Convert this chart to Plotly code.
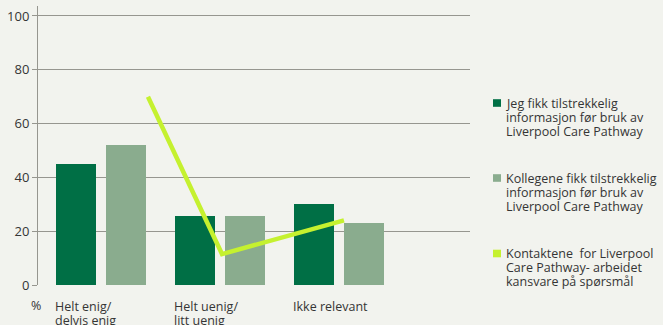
import plotly.graph_objects as go

# Survey answers (percent)
categories = [["Helt enig/", "delvis enig"], ["Helt uenig/", "litt uenig"], ["Ikke relevant"]]
series_names = [
    ["Jeg fikk tilstrekkelig", "informasjon før bruk av", "Liverpool Care Pathway"],
    ["Kollegene fikk tilstrekkelig", "informasjon før bruk av", "Liverpool Care Pathway"],
    ["Kontaktene  for Liverpool", "Care Pathway- arbeidet", "kansvare på spørsmål"],
]
jeg_values = [45, 25.5, 30]
kollegene_values = [52, 25.5, 23]
kontakt_values = [70, 11.5, 24]
kontakt_positions = [0.395, 1.017, 2.042]
y_ticks = [0, 20, 40, 60, 80, 100]

DARK = "#006f45"
LIGHT = "#8aac8e"
LIME = "#c5f12f"
BG = "#f2f3ee"
GRID = "#96968f"
TEXT = "#353535"
FONT = "Open Sans"

W, H = 663, 325
L, R, T, B = 38, 193, 6, 40
X_RANGE = [-0.529, 3.101]
Y_RANGE = [0, 103.7]
LINE_STEP = 14

xs = list(range(len(categories)))
plot_w = W - L - R
plot_h = H - T - B


def px_x(p):
    return (p - L) / plot_w


def px_y(p):
    return 1 - (p - T) / plot_h


fig = go.Figure()
fig.add_trace(go.Bar(x=xs, y=jeg_values, width=0.336, offset=-0.378,
                     marker=dict(color=DARK, line=dict(width=0)),
                     showlegend=False))
fig.add_trace(go.Bar(x=xs, y=kollegene_values, width=0.336, offset=0.042,
                     marker=dict(color=LIGHT, line=dict(width=0)),
                     showlegend=False))
fig.add_trace(go.Scatter(x=kontakt_positions, y=kontakt_values, mode="lines",
                         line=dict(color=LIME, width=4.5), showlegend=False))

label_font = dict(family=FONT, size=12.5, color=TEXT)

# Category labels, left-aligned under the first bar of each group
for x, lines in zip(xs, categories):
    for i, line in enumerate(lines):
        fig.add_annotation(x=x - 0.395, y=px_y(306 + i * LINE_STEP),
                           xref="x", yref="paper", text=line,
                           xanchor="left", yanchor="middle", borderpad=0,
                           showarrow=False, font=label_font)
fig.add_annotation(x=px_x(30), y=px_y(305), xref="paper", yref="paper", text="%",
                   xanchor="left", yanchor="middle", showarrow=False, borderpad=0,
                   font=label_font)

# Legend drawn beside the plot
legend_colors = [DARK, LIGHT, LIME]
legend_centers = [103, 178, 253.5]
for lines, color, cy in zip(series_names, legend_colors, legend_centers):
    fig.add_shape(type="rect", xref="paper", yref="paper",
                  x0=px_x(493), x1=px_x(501), y0=px_y(cy - 3.8), y1=px_y(cy + 3.8),
                  fillcolor=color, line=dict(width=0))
    for i, line in enumerate(lines):
        fig.add_annotation(x=px_x(504.5), y=px_y(cy + i * LINE_STEP),
                           xref="paper", yref="paper", text=line,
                           xanchor="left", yanchor="middle", borderpad=0,
                           showarrow=False, font=label_font)

fig.update_layout(
    width=W, height=H,
    margin=dict(l=L, r=R, t=T, b=B, pad=0),
    paper_bgcolor=BG, plot_bgcolor=BG,
    bargap=0, barmode="overlay",
    font=dict(family=FONT, size=13, color=TEXT),
)
fig.update_xaxes(range=X_RANGE, showticklabels=False, showgrid=False,
                 zeroline=False, showline=False, ticks="")
fig.update_yaxes(range=Y_RANGE, tickvals=y_ticks, showgrid=True,
                 gridcolor=GRID, gridwidth=1, zeroline=False,
                 showline=True, linecolor=GRID, linewidth=1,
                 ticks="outside", ticklen=5, tickcolor=GRID,
                 tickfont=dict(family=FONT, size=13, color=TEXT))

fig.write_html("out.html")
